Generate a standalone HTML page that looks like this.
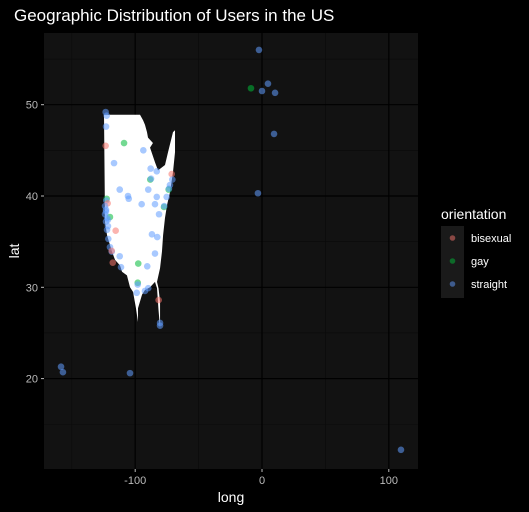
<!DOCTYPE html>
<html><head><meta charset="utf-8">
<style>
html,body{margin:0;padding:0;background:#000;}
svg{display:block;font-family:"Liberation Sans",Arial,sans-serif;}
</style></head>
<body>
<svg id="chart" width="529" height="512" viewBox="0 0 529 512">
<rect width="529" height="512" fill="#000"/>
<text x="14" y="21" fill="#fff" font-size="17">Geographic Distribution of Users in the US</text>
<rect x="44" y="33" width="374" height="436" fill="#121212"/>
<g id="grid"></g>
<g id="map"></g>
<g id="points"></g>
<g id="axes"></g>
<text x="231" y="502" fill="#fff" font-size="14" text-anchor="middle">long</text>
<text transform="translate(19,251) rotate(-90)" fill="#fff" font-size="14" text-anchor="middle">lat</text>
<g>
<text x="441" y="219" fill="#fff" font-size="14">orientation</text>
<rect x="441" y="226" width="23" height="72" fill="#1a1a1a"/>
<circle cx="452.5" cy="238" r="2.8" fill="#F8766D" fill-opacity="0.5"/>
<text x="471" y="242" fill="#fff" font-size="11">bisexual</text>
<circle cx="452.5" cy="261" r="2.8" fill="#00BA38" fill-opacity="0.5"/>
<text x="471" y="265" fill="#fff" font-size="11">gay</text>
<circle cx="452.5" cy="284" r="2.8" fill="#619CFF" fill-opacity="0.5"/>
<text x="471" y="288" fill="#fff" font-size="11">straight</text>
</g>
</svg>
<script>
const xTicks=[-100,0,100];
const xMinor=[-150,-50,50];
const yTicks=[20,30,40,50];
const yMinor=[15,25,35,45,55];
const colors={bisexual:"#F8766D",gay:"#00BA38",straight:"#619CFF"};
const mapLong=[-124.6,-123,-96.2,-93.8,-92.3,-90.7,-89.9,-86,-88.3,-84.4,-82,-76.5,-74.1,-70.2,-68.6,-68.6,-70.2,-72.6,-74.9,-76.5,-78,-78.9,-80.4,-82.8,-81.6,-80.4,-80.4,-80.4,-81.6,-82.8,-84.4,-88.3,-92.3,-94.6,-97.8,-97.8,-99.4,-101.7,-104.1,-106.5,-110.4,-112,-115.9,-118.3,-122.2,-123.8];
const mapLat=[48.9,48.9,48.9,48.3,47.8,47,46.4,45.8,45.3,43.7,42.8,43.4,44.8,47,47.2,44.8,42.6,40.4,39,37.6,35.7,33.9,32.1,30.6,29.9,28.4,26.2,25.5,27.5,29.9,30.6,30,29.7,29.2,27.7,26.2,27.7,29.5,30,31.3,31.7,32.4,33,33.9,35.7,37.2];
const ptLong=[-2.4,-8.7,0,4.7,10.3,9.5,-3.2,-158.5,-157,-104.1,109.6,-123.3,-122.5,-123,-123.3,-108.8,-93.6,-116.7,-87.8,-83.0,-71.2,-88.1,-87.5,-70.7,-72.6,-73.6,-73.4,-112.2,-89.7,-105.7,-105.1,-83.0,-75.2,-122.5,-122.8,-94.9,-84.4,-77.3,-77.1,-81.2,-121.7,-119.9,-123.8,-123,-123.8,-122.2,-123,-121.5,-122.2,-123,-121.5,-115.4,-86.8,-82.6,-121.2,-119.9,-118.5,-118.5,-117.7,-112.2,-111.2,-84.4,-97.6,-90.5,-98.0,-98.0,-98.8,-89.7,-92.3,-81.5,-80.4,-80.4];
const ptLat=[56.0,51.8,51.5,52.3,51.3,46.8,40.3,21.3,20.7,20.6,12.2,49.2,48.8,47.6,45.5,45.8,45.0,43.6,43.0,42.7,42.4,41.8,41.9,41.8,41.2,40.7,40.8,40.7,40.7,40.0,39.7,39.9,39.9,39.7,39.5,39.1,39.1,38.8,38.9,38.0,39.2,37.7,38.9,38.5,38.0,37.6,37.2,36.7,36.3,38.3,37.4,36.2,35.8,35.5,35.3,34.4,33.9,34.0,32.7,33.4,32.2,33.7,32.6,32.3,30.5,30.3,29.4,29.9,29.6,28.6,26.1,25.8];
const ptGroup=["straight","gay","straight","straight","straight","straight","straight","straight","straight","straight","straight","straight","straight","straight","bisexual","gay","straight","straight","straight","straight","bisexual","gay","straight","straight","straight","gay","straight","straight","straight","straight","straight","straight","straight","gay","straight","straight","straight","gay","straight","straight","bisexual","gay","straight","straight","straight","straight","straight","straight","straight","straight","straight","bisexual","straight","straight","straight","straight","straight","bisexual","bisexual","straight","straight","straight","gay","straight","gay","straight","straight","straight","straight","bisexual","straight","straight"];
const X=v=>262+1.268*v;
const Y=v=>196-9.13*(v-40);
const NS="http://www.w3.org/2000/svg";
function mk(tag,attrs,parent){const e=document.createElementNS(NS,tag);for(const k in attrs)e.setAttribute(k,attrs[k]);parent.appendChild(e);return e;}
const grid=document.getElementById('grid');
xMinor.forEach(v=>{const l=mk('line',{x1:X(v),x2:X(v),y1:33,y2:469,stroke:'#0a0a0a','stroke-width':0.6},grid);

});
yMinor.forEach(v=>{const l=mk('line',{x1:44,x2:418,y1:Y(v),y2:Y(v),stroke:'#0a0a0a','stroke-width':0.6},grid);

});
xTicks.forEach(v=>{const l=mk('line',{x1:X(v),x2:X(v),y1:33,y2:469,stroke:'#000','stroke-width':1.2},grid);

});
yTicks.forEach(v=>{const l=mk('line',{x1:44,x2:418,y1:Y(v),y2:Y(v),stroke:'#000','stroke-width':1.2},grid);

});
const axes=document.getElementById('axes');
xTicks.forEach(v=>{const t=mk('line',{x1:X(v),x2:X(v),y1:469,y2:472,stroke:'#bbb','stroke-width':1},axes);


const tx=mk('text',{x:X(v),y:484,fill:'#bbb','font-size':11,'text-anchor':'middle'},axes);tx.textContent=v;

});
yTicks.forEach(v=>{const t=mk('line',{x1:41,x2:44,y1:Y(v),y2:Y(v),stroke:'#bbb','stroke-width':1},axes);


const tx=mk('text',{x:38,y:Y(v)+4,fill:'#bbb','font-size':11,'text-anchor':'end'},axes);tx.textContent=v;

});
const map=document.getElementById('map');
const poly=mk('polygon',{points:mapLong.map((v,i)=>X(v)+','+Y(mapLat[i])).join(' '),fill:'#fff'},map);


const pts=document.getElementById('points');
ptLong.forEach((v,i)=>{const c=mk('circle',{cx:X(v),cy:Y(ptLat[i]),r:3.3,fill:colors[ptGroup[i]],'fill-opacity':0.55},pts);

});
</script>
</body></html>
